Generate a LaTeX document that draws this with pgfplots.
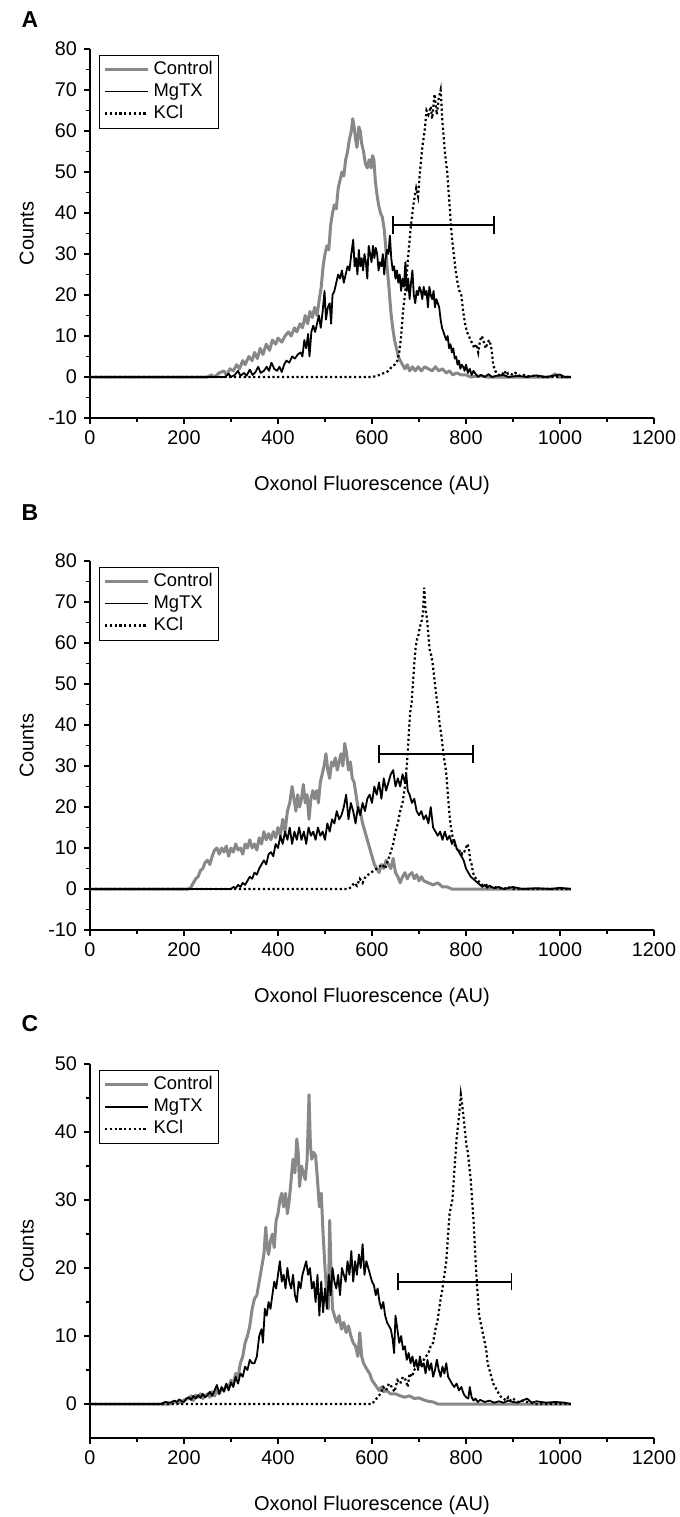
\documentclass[border=0pt]{standalone}
\usepackage{fontspec}
\setmainfont{Liberation Sans}
\usepackage{pgfplots}
\pgfplotsset{compat=1.18}
\definecolor{ctrl}{RGB}{136,136,136}

\pgfplotsset{
 panel/.style={
  scale only axis, width=282pt,
  xmin=0, xmax=1200,
  axis lines=left, axis line style={-, line width=0.8pt},
  tick align=outside, major tick length=3pt, minor tick length=1.75pt,
  xtick={0,200,...,1200}, minor x tick num=1, minor y tick num=1,
  every tick/.style={black, line width=0.7pt},
  tick label style={font=\fontsize{9.9}{11}\selectfont},
  /pgf/number format/assume math mode=true,
  /pgf/number format/1000 sep={},
  xlabel={Oxonol Fluorescence (AU)}, ylabel={Counts},
  label style={font=\fontsize{12}{14}\selectfont},
  every axis x label/.style={at={(axis description cs:0.5,0)}, anchor=center, yshift=-33.5pt},
  every axis y label/.style={at={(axis description cs:-0.112,0.5)}, anchor=center, rotate=90},
  legend style={at={(axis description cs:0.016,0.985)}, anchor=north west,
    draw=black, line width=0.5pt, fill=white, inner xsep=2pt, inner ysep=2pt,
    row sep=0.5pt, column sep=1pt,
    font=\fontsize{9.2}{10}\selectfont,
    nodes={inner sep=1pt, text height=6.6pt, text depth=1.9pt}},
  legend cell align=left,
  legend image code/.code={\draw[#1] (0pt,0pt) -- (21.5pt,0pt);},
 },
 ctl/.style={ctrl, line width=1.5pt, line join=round},
 mgt/.style={black, line width=0.9pt, line join=round},
 kcl/.style={black, line width=1.1pt, dash pattern=on 1.1pt off 1.3pt},
 ebar/.style={black, line width=0.9pt, forget plot},
}

\begin{document}
\begin{tikzpicture}
\useasboundingbox (0,0) rectangle (340pt,-758.5pt);
\node[font=\bfseries\fontsize{11.5}{13}\selectfont] at (15pt,-10pt) {A};
\node[font=\bfseries\fontsize{11.5}{13}\selectfont] at (15pt,-256.5pt) {B};
\node[font=\bfseries\fontsize{11.5}{13}\selectfont] at (15pt,-512pt) {C};

% ---------------- Panel A ----------------
\begin{axis}[panel, at={(45pt,-209pt)}, anchor=south west, height=184.5pt,
  ymin=-10, ymax=80, ytick={-10,0,...,80}]
\addplot[ctl] coordinates {(0,0) (250,0) (258,0.5) (265,0) (275,1) (285,1.5) (290,0.5) (298,2) (305,1.5) (312,3) (318,2) (325,4) (330,3) (338,5) (345,4) (350,6) (356,4.5) (362,7) (368,5.5) (375,8) (382,6.5) (388,9) (395,8) (400,9.5) (408,8.5) (415,10) (422,11) (428,10) (435,12) (440,11) (447,13) (452,12) (458,15) (463,13) (468,16) (473,14.5) (478,17) (483,15) (488,19) (492,22) (496,27) (500,30) (504,32) (508,31) (512,37) (516,40) (520,42) (524,41) (528,46) (532,48) (536,50) (540,49) (544,53) (548,55) (552,58) (556,60) (559,63) (562,61) (565,58) (568,56) (572,61) (575,60) (578,57) (582,55) (586,52) (590,51) (594,53) (598,51) (601,54) (604,53) (607,48) (610,45) (614,42) (618,40) (622,39) (626,36) (629,32) (632,27) (636,22) (640,16) (644,12) (648,9) (652,7) (656,5) (660,4) (665,3) (670,2) (675,3) (680,1.5) (686,2.5) (692,1.5) (698,2.5) (705,1.5) (712,2.5) (720,2) (728,1.5) (735,2.5) (742,1.5) (750,2) (758,1) (765,1.5) (772,0.5) (780,1) (790,0.5) (800,0.5) (810,0) (830,0.3) (845,0) (980,0) (990,0.8) (995,0) (1023,0)};
\addlegendentry{Control}
\addplot[mgt] coordinates {(0,0) (288,0) (295,0.8) (300,0) (308,0.5) (315,1.5) (320,0.3) (328,1) (333,0.3) (340,1.8) (346,0.5) (352,1.2) (358,2.5) (363,1) (370,1.5) (376,2.5) (381,1.5) (386,3.5) (392,2) (398,1.5) (403,2.5) (408,1.2) (413,3) (418,4) (424,3.5) (430,5) (436,4.5) (442,5.5) (448,6) (452,5) (456,9) (460,7) (464,10.5) (467,5) (471,11) (475,12.5) (479,11) (483,13) (487,15) (491,12) (495,16) (499,21) (502,14) (506,17) (510,18) (513,13) (516,20) (520,21) (524,23) (528,25) (532,24) (536,26) (540,23) (544,25) (548,27) (552,26) (556,30) (560,33.5) (563,27) (566,29) (569,25) (572,31) (575,27) (578,29) (581,26) (584,30) (587,28) (590,24) (593,32) (596,30) (599,28) (602,32) (605,29) (608,31.5) (611,30) (614,26) (617,28) (620,27) (623,30) (626,25) (629,29) (632,31) (635,30) (638,34.5) (641,29) (644,26) (647,27) (650,24) (653,26) (656,23) (659,25) (662,21) (665,24) (668,22) (671,28) (674,21) (677,24) (680,19) (683,23) (686,26) (689,20) (692,18) (695,21) (698,20) (701,22) (704,21) (707,19) (710,22) (713,20) (716,21) (719,17) (722,22) (725,20) (728,19) (731,21) (734,17) (737,19) (740,18) (743,17) (746,14) (749,12) (752,11) (755,10) (758,9) (761,10) (764,7) (767,8) (770,6) (773,7) (776,4.5) (779,5) (782,3) (785,4) (788,2) (791,3) (794,2.5) (797,1.5) (800,3) (804,1) (808,2) (812,0.5) (816,1.5) (820,0.8) (826,0) (832,0.5) (840,0) (848,0.7) (855,0) (865,0.3) (880,0.5) (890,0) (910,0.3) (930,0) (950,0.4) (970,0) (985,0.3) (1000,0.6) (1010,0) (1023,0)};
\addlegendentry{MgTX}
\addplot[kcl] coordinates {(0,0) (600,0) (612,0.3) (620,0.8) (628,1) (635,1.5) (642,2.5) (648,3) (654,4) (658,6) (662,10) (666,16) (670,20) (676,28) (682,36) (688,42) (694,46) (698,44) (702,50) (707,56) (712,60) (716,65) (720,64) (725,66) (728,63) (733,69) (738,64) (742,68) (746,70) (750,62) (755,55) (760,50) (765,42) (770,34) (774,30) (778,26) (782,23) (786,21) (790,20) (794,16) (798,13) (802,11) (806,10) (810,9) (814,8) (818,7) (822,8) (826,6) (830,9) (834,10) (838,8.5) (842,7) (846,8.5) (850,9) (854,7) (858,3) (862,1.5) (866,1) (870,0.5) (874,1) (878,0.8) (882,1.5) (886,0.5) (890,1) (895,0.8) (900,0.5) (905,1) (912,0.3) (920,0.6) (930,0.2) (945,0.3) (960,0) (1023,0)};
\addlegendentry{KCl}
\addplot[ebar] coordinates {(645,37) (860,37)};
\addplot[ebar] coordinates {(645,34.8) (645,39.2)};
\addplot[ebar] coordinates {(860,34.8) (860,39.2)};
\end{axis}

% ---------------- Panel B ----------------
\begin{axis}[panel, at={(45pt,-465pt)}, anchor=south west, height=184.5pt,
  ymin=-10, ymax=80, ytick={-10,0,...,80}]
\addplot[ctl] coordinates {(0,0) (210,0) (215,0.5) (220,1.5) (225,2.5) (230,3) (235,4.5) (240,5) (245,6.5) (250,7) (255,6) (260,8) (265,9.5) (270,10) (275,8.5) (280,10) (285,9) (290,10.5) (295,8) (300,10) (305,9) (310,11) (315,9.5) (320,10) (325,8.5) (330,11) (335,10) (340,12) (345,10) (350,11) (355,9.5) (360,12.5) (365,11) (370,14) (375,12) (380,13.5) (385,12) (390,14) (395,12.5) (400,15) (405,13) (410,17) (415,14) (420,19) (425,21) (430,25) (434,22) (438,19) (442,23) (446,20) (450,22) (454,25.5) (458,21) (462,23) (466,17) (470,22) (474,24) (478,22) (482,24) (486,21) (490,26) (494,28) (498,30) (502,33) (506,29) (510,27) (514,31) (518,30) (522,32) (526,29) (530,31) (534,33) (538,30) (542,35.5) (546,33) (550,29) (554,31) (558,27) (562,26) (566,23) (570,20) (575,19) (580,16) (585,14) (590,12) (595,10) (600,8) (605,6) (610,5) (615,4) (620,6) (625,5) (630,7) (635,6) (640,5) (645,7.5) (650,4) (655,3) (660,1.5) (665,3) (670,4) (675,2.5) (680,3.5) (685,4) (690,2.5) (695,3.5) (700,2) (705,3) (710,2) (720,1.5) (730,1) (740,1.5) (750,0.5) (760,0.5) (770,0) (1023,0)};
\addlegendentry{Control}
\addplot[mgt] coordinates {(0,0) (300,0) (305,0.5) (310,0.2) (315,1) (320,0.5) (325,1.5) (330,1) (335,2) (340,3) (345,2.5) (350,4) (355,3.5) (360,5) (365,6) (370,7) (375,6) (380,8.5) (385,9) (390,8) (395,11) (400,10) (405,13) (410,11) (415,14) (420,12) (425,15) (430,11) (435,14) (440,12) (445,15) (450,12) (455,14) (460,11) (465,15) (470,13) (475,14) (480,12) (485,15) (490,13) (495,14) (500,12) (505,16) (510,14) (515,17) (520,16) (525,19) (530,17) (535,18) (540,20) (545,23) (550,17) (555,21) (560,19) (565,16) (570,20) (575,18) (580,21) (585,19) (590,22) (595,23) (600,21) (605,25) (610,23) (615,26) (620,22) (625,27) (630,24) (635,26) (640,28) (645,29) (650,25) (655,27) (660,25) (665,28) (670,26) (673,28) (676,24) (680,23) (685,21) (690,22) (695,19) (700,18) (705,19) (710,17) (715,18) (720,16) (725,20) (730,15) (735,14) (740,13) (745,14) (750,12) (755,14) (760,12) (765,13) (770,11) (775,12) (780,10) (785,9) (790,8) (795,7) (800,5) (805,4) (810,3) (815,2.5) (820,2) (825,1.5) (830,1) (835,0.5) (840,1) (845,0.3) (850,0.8) (860,0.2) (870,0.5) (880,0) (900,0.5) (920,0) (950,0.2) (980,0) (1000,0.3) (1023,0)};
\addlegendentry{MgTX}
\addplot[kcl] coordinates {(0,0) (550,0) (556,0.5) (562,1.5) (568,0.8) (574,2.5) (580,1.5) (586,3) (592,3.5) (598,4) (604,4.5) (610,5) (616,5.5) (622,6) (628,5) (634,7) (640,9) (645,11) (650,14) (655,16) (660,19) (665,21) (670,25) (674,30) (678,37) (681,43) (684,45) (687,50) (690,55) (693,59) (696,61) (699,62) (702,64) (705,65) (708,67) (711,73.5) (714,68) (717,66) (720,62) (723,58) (726,57) (729,55) (732,52) (735,49) (738,46) (741,44) (744,40) (747,38) (750,35) (753,32) (756,30) (759,27) (762,22) (765,18) (768,15) (771,13) (774,11.5) (777,10.5) (780,10) (784,9) (788,9.5) (792,8.5) (796,9) (800,10) (803,11) (806,10) (809,7) (812,6) (815,4) (818,3) (822,2.5) (826,2) (830,1.5) (835,1) (840,1.2) (850,0.5) (860,0.5) (870,0.3) (880,0) (890,0.5) (900,0) (1023,0)};
\addlegendentry{KCl}
\addplot[ebar] coordinates {(615,33) (815,33)};
\addplot[ebar] coordinates {(615,30.8) (615,35.2)};
\addplot[ebar] coordinates {(815,30.8) (815,35.2)};
\end{axis}

% ---------------- Panel C ----------------
\begin{axis}[panel, at={(45pt,-719pt)}, anchor=south west, height=187pt,
  ymin=-5, ymax=50, ytick={0,10,...,50}]
\addplot[ctl] coordinates {(0,0) (170,0) (180,0.3) (190,0.2) (200,0.6) (210,0.8) (215,1.2) (220,0.5) (225,1.3) (230,1) (235,1.5) (240,0.8) (245,1.2) (250,1.5) (255,1) (260,1.8) (265,1.2) (270,2) (275,1.5) (280,2.3) (285,2) (290,2.8) (295,2.4) (300,3.5) (305,3) (310,4.5) (315,4) (320,6) (325,7) (330,9) (335,10) (340,11.5) (345,14) (350,15.5) (355,16) (360,18) (365,20) (370,22) (374,26) (377,23) (380,22) (384,24) (388,25) (392,23) (396,27) (400,28) (404,30) (408,31) (412,29) (416,31) (420,28) (424,30) (428,33) (432,36) (436,34) (440,39) (443,37) (446,32) (450,35) (454,34) (458,33) (462,36) (466,45.5) (469,38) (472,36) (476,37) (480,36.5) (484,33) (488,29) (492,31) (496,25) (500,20) (504,16) (507,14) (510,27) (513,19) (516,14) (520,13) (525,12) (530,13) (535,11) (540,12) (545,10.5) (550,11.5) (555,10) (560,9) (565,8.5) (570,7) (574,10.5) (578,7) (582,6) (586,5.5) (590,5) (595,4.5) (600,3.5) (605,3) (610,2.5) (615,2) (620,2.5) (625,1.8) (630,2) (640,1.5) (650,1.5) (660,1.2) (670,1) (680,1.2) (690,0.8) (700,0.9) (710,0.6) (720,0.4) (730,0.3) (740,0) (1023,0)};
\addlegendentry{Control}
\addplot[mgt] coordinates {(0,0) (150,0) (160,0.3) (170,0.2) (180,0.5) (185,0.3) (190,0.7) (195,0.4) (200,0.3) (205,0.8) (210,1) (215,0.6) (220,1.2) (225,0.8) (230,1.3) (235,0.9) (240,1.5) (245,1) (250,1.3) (255,1.8) (260,1.2) (265,2) (270,2.8) (275,1.5) (280,2.5) (285,1.8) (290,3) (295,2) (300,3.2) (305,2.5) (310,4) (315,3) (320,4.5) (325,4) (330,5.5) (335,5) (340,6.5) (345,6) (350,6) (355,7) (360,10) (365,11) (368,9) (372,14) (376,13) (380,15) (384,14) (388,16) (392,18) (396,17) (400,19) (404,21) (408,18) (412,19) (416,17) (420,20) (424,18) (428,17) (432,19) (436,16) (440,15) (444,18) (448,17) (452,19) (456,20) (460,21) (464,19) (468,20) (472,17) (476,18) (480,15) (484,19) (488,13) (492,18) (496,13.5) (500,17) (504,14) (508,19) (512,16) (516,20) (520,18) (524,17) (528,19) (532,16) (536,20) (540,19) (544,18) (548,21) (552,19) (556,22.5) (560,18) (564,21) (568,19) (572,22) (576,20) (580,23.5) (584,19) (588,21) (592,20) (596,19) (600,18) (604,17.5) (608,16) (612,17) (616,15) (620,14) (624,15) (628,13) (632,12) (636,11.5) (640,11) (644,9.5) (647,7.5) (650,13) (654,11) (658,9) (662,10) (666,8) (670,8.5) (674,6.5) (678,7.5) (682,6) (686,7) (690,5.5) (694,6.5) (698,5) (702,7) (706,5.5) (710,6) (714,4.5) (718,6.5) (722,5) (726,6) (730,4) (734,5) (738,6.5) (742,5) (746,4) (750,5.5) (754,4.5) (758,6) (762,4) (766,3.5) (770,3) (775,2.5) (780,3) (785,2) (790,2.5) (795,1.5) (800,1) (805,0.8) (808,2.5) (812,1) (816,0.5) (820,0.8) (825,0.3) (830,0.6) (840,0.3) (850,0.5) (860,0.2) (870,0.4) (880,0.2) (890,0.5) (900,0.3) (910,0.2) (920,0.5) (930,0.8) (940,0.2) (950,0.4) (970,0.2) (990,0.3) (1010,0.2) (1023,0)};
\addlegendentry{MgTX}
\addplot[kcl] coordinates {(0,0) (600,0) (606,0.5) (612,1) (618,1.5) (624,2.5) (630,2) (636,3) (642,2.5) (648,1.8) (654,3.5) (660,3) (666,4) (672,3.5) (676,2.5) (680,4.5) (685,4) (690,5) (695,5.5) (700,6) (705,5.5) (710,6.5) (715,7) (720,7.5) (725,8.5) (730,9) (735,11) (740,12.5) (745,15) (750,17) (754,19) (758,21) (762,25) (765,28) (768,29) (771,30) (774,33) (777,36) (780,39) (783,41) (786,43) (789,45.5) (792,44) (795,42) (798,40) (801,38) (804,37) (807,35) (810,33) (813,30) (816,27) (819,23) (822,19) (825,16) (828,13) (831,12) (834,11) (837,10) (840,9) (843,8) (846,6) (850,5) (854,4) (858,3) (862,2.5) (866,2) (870,1.5) (875,1) (880,0.8) (885,0.5) (890,1) (895,0.5) (900,0.8) (910,0.3) (920,0.5) (935,0.2) (950,0) (1023,0)};
\addlegendentry{KCl}
\addplot[ebar] coordinates {(655,18) (897,18)};
\addplot[ebar] coordinates {(655,16.7) (655,19.3)};
\addplot[ebar] coordinates {(897,16.7) (897,19.3)};
\end{axis}
\end{tikzpicture}
\end{document}
